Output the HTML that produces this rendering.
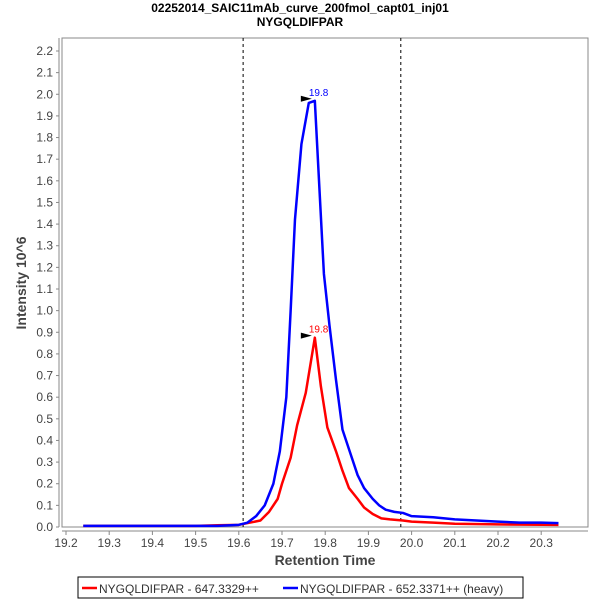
<!DOCTYPE html>
<html><head><meta charset="utf-8"><style>
body{margin:0;background:#fff;}
svg text{font-family:"Liberation Sans","DejaVu Sans",sans-serif;}
</style></head><body>
<svg id="chart" width="600" height="600" viewBox="0 0 600 600" xmlns="http://www.w3.org/2000/svg">
<rect width="600" height="600" fill="#fff"/>
<text x="300" y="12" text-anchor="middle" font-size="12" font-weight="bold">02252014_SAIC11mAb_curve_200fmol_capt01_inj01</text>
<text x="300" y="26" text-anchor="middle" font-size="12" font-weight="bold">NYGQLDIFPAR</text>
<rect x="62" y="38" width="526" height="489" fill="#fff" stroke="#888" stroke-width="1"/>
<g id="axes"></g>
<g id="series"></g>
<text x="325" y="565" text-anchor="middle" font-size="14" font-weight="bold" fill="#444">Retention Time</text>
<text transform="translate(26,283) rotate(-90)" text-anchor="middle" font-size="14" font-weight="bold" fill="#444">Intensity 10^6</text>
<g>
<rect x="78" y="577" width="445" height="21" fill="#fff" stroke="#000"/>
<line x1="82" y1="588" x2="97" y2="588" stroke="#f00" stroke-width="2.5"/>
<text x="99" y="593" font-size="12" fill="#333">NYGQLDIFPAR - 647.3329++</text>
<line x1="283" y1="588" x2="298" y2="588" stroke="#00f" stroke-width="2.5"/>
<text x="300" y="593" font-size="12" fill="#333">NYGQLDIFPAR - 652.3371++ (heavy)</text>
</g>
</svg>
<script>
const xTicks=[19.2,19.3,19.4,19.5,19.6,19.7,19.8,19.9,20.0,20.1,20.2,20.3];
const yTicks=[0,0.1,0.2,0.3,0.4,0.5,0.6,0.7,0.8,0.9,1.0,1.1,1.2,1.3,1.4,1.5,1.6,1.7,1.8,1.9,2.0,2.1,2.2];
const boundaries=[19.61,19.975];
const blueT=[19.24,19.3,19.4,19.5,19.55,19.6,19.62,19.64,19.66,19.68,19.695,19.71,19.72,19.73,19.745,19.762,19.776,19.787,19.797,19.81,19.825,19.84,19.86,19.875,19.89,19.91,19.925,19.94,19.96,19.98,20.0,20.05,20.1,20.15,20.2,20.25,20.28,20.3,20.34];
const blueV=[0.005,0.005,0.005,0.005,0.005,0.01,0.02,0.05,0.1,0.2,0.35,0.6,1.0,1.42,1.77,1.96,1.97,1.55,1.17,0.93,0.68,0.45,0.33,0.24,0.18,0.13,0.1,0.08,0.07,0.065,0.05,0.045,0.035,0.03,0.025,0.02,0.02,0.02,0.018];
const redT=[19.24,19.3,19.4,19.5,19.55,19.6,19.65,19.67,19.69,19.7,19.72,19.735,19.755,19.776,19.79,19.805,19.825,19.84,19.855,19.875,19.89,19.91,19.93,19.95,19.98,20.0,20.05,20.1,20.2,20.34];
const redV=[0.005,0.005,0.005,0.005,0.008,0.01,0.03,0.07,0.13,0.2,0.32,0.47,0.62,0.875,0.65,0.46,0.35,0.26,0.18,0.13,0.09,0.06,0.04,0.035,0.03,0.025,0.02,0.015,0.012,0.01];
const peakLabels=["19.8","19.8"];
const NS="http://www.w3.org/2000/svg";
const X=v=>66+(v-19.2)*432;
const Y=v=>527-v*(476/2.2);
function mk(tag,attrs,parent){const e=document.createElementNS(NS,tag);for(const k in attrs)e.setAttribute(k,attrs[k]);parent.appendChild(e);return e;}
const ax=document.getElementById('axes');
let l=mk('line',{x1:59,y1:38,x2:59,y2:527,stroke:'#888'},ax);


l=mk('line',{x1:62,y1:531,x2:588,y2:531,stroke:'#888'},ax);


yTicks.forEach(v=>{const y=Y(v);mk('line',{x1:56,y1:y,x2:59,y2:y,stroke:'#888'},ax);
const t=mk('text',{x:53,y:y+4,'text-anchor':'end','font-size':12,fill:'#444'},ax);t.textContent=v.toFixed(1);

});
xTicks.forEach(v=>{const x=X(v);mk('line',{x1:x,y1:531,x2:x,y2:535,stroke:'#888'},ax);
const t=mk('text',{x:x,y:547,'text-anchor':'middle','font-size':12,fill:'#444'},ax);t.textContent=v.toFixed(1);

});
boundaries.forEach(b=>{const d=mk('line',{x1:X(b),y1:38,x2:X(b),y2:527,stroke:'#000','stroke-dasharray':'3,3'},ax);

});
const sg=document.getElementById('series');
function series(T,V,color,name,lab){
 const p=mk('polyline',{points:T.map((t,i)=>X(t)+','+Y(V[i])).join(' '),fill:'none',stroke:color,'stroke-width':2.5,'stroke-linejoin':'round'},sg);
 
 
 let mi=0;V.forEach((v,i)=>{if(v>V[mi])mi=i;});
 const px=X(T[mi]),py=Y(V[mi]);
 const a=mk('polygon',{points:(px-14)+','+(py-5)+' '+(px-3)+','+(py-2)+' '+(px-14)+','+(py+1),fill:'#000'},sg);
 
 
 const t=mk('text',{x:px-6,y:py-5,'font-size':10,fill:color},sg);t.textContent=lab;
 
 
}
series(redT,redV,'#f00','light-series',peakLabels[0]);
series(blueT,blueV,'#00f','heavy-series',peakLabels[1]);
</script>
</body></html>
